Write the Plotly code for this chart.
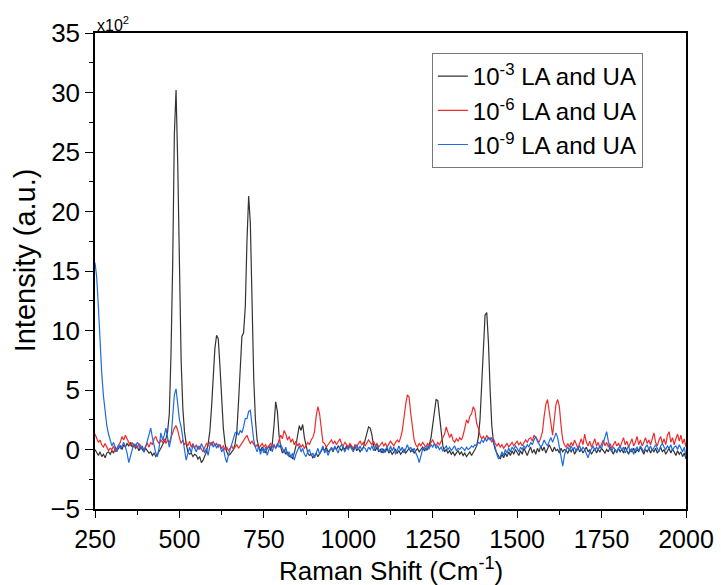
import numpy as np
import plotly.graph_objects as go

# Raman shift sampling grid (cm^-1), 5 cm^-1 step from 250 to 2000
shift_start = 250
shift_step = 5

# Intensity (x10^2 a.u.) — rows of 10 values, each row spans 50 cm^-1
la_ua_1e3 = [
    0.0, -0.3, -0.5, -0.2, -0.6, -0.4, -0.7, -0.3, -0.2, -0.4,
    -0.1, -0.3, 0.2, -0.1, 0.1, 0.3, 0.0, 0.4, 0.2, 0.5,
    0.3, 0.6, 0.2, 0.4, 0.1, 0.3, -0.1, 0.2, 0.0, -0.2,
    0.1, -0.1, -0.3, -0.2, -0.5, -0.3, -0.6, -0.4, -0.2, 0.1,
    0.4, 0.6, 0.9, 1.5, 3.0, 8.0, 15.5, 26.5, 30.2, 24.0,
    14.5, 7.5, 3.5, 1.5, 0.5, -0.2, -0.4, -0.3, -0.6, -0.4,
    -0.5, -0.8, -0.6, -1.1, -0.9, -0.5, -0.2, 0.5, 1.5, 3.5,
    6.0, 8.5, 9.6, 9.3, 7.0, 4.0, 1.8, 0.5, -0.2, -0.5,
    -0.4, -0.2, 0.0, 0.5, 1.5, 4.0, 7.5, 9.5, 9.8, 12.0,
    17.5, 21.3, 19.0, 12.0, 6.0, 2.5, 0.8, 0.2, -0.1, 0.2,
    0.0, -0.3, 0.1, 0.3, -0.1, 0.5, 2.0, 4.0, 3.2, 1.2,
    0.2, -0.3, 0.0, -0.4, -0.2, -0.6, -0.5, -0.8, -0.3, 0.3,
    1.2, 2.0, 1.6, 2.1, 1.0, 0.2, -0.3, -0.5, -0.4, -0.7,
    -0.5, -0.3, -0.6, -0.4, -0.2, 0.1, -0.1, 0.2, -0.2, 0.0,
    0.1, -0.2, 0.2, 0.0, 0.3, 0.1, -0.1, 0.2, 0.0, 0.3,
    0.1, 0.4, 0.2, 0.0, 0.3, -0.1, 0.1, -0.2, 0.0, 0.2,
    0.8, 1.5, 1.9, 1.8, 1.2, 0.3, -0.1, 0.2, -0.2, 0.0,
    -0.3, 0.0, -0.2, 0.1, -0.3, -0.1, -0.4, -0.2, 0.0, -0.3,
    -0.1, -0.4, -0.2, 0.0, -0.3, -0.1, 0.1, -0.2, 0.0, -0.3,
    -0.1, 0.1, -0.2, 0.0, 0.2, -0.1, 0.1, 0.0, 0.4, 1.0,
    2.0, 3.2, 4.2, 4.1, 2.8, 1.2, 0.3, -0.2, 0.0, -0.3,
    -0.1, -0.4, -0.2, -0.5, -0.3, -0.1, -0.4, -0.2, -0.5, -0.3,
    -0.6, -0.4, -0.2, -0.5, -0.3, 0.0, 0.3, 1.0, 2.5, 5.5,
    9.0, 11.3, 11.5, 9.0, 5.0, 2.0, 0.6, 0.0, -0.3, -0.6,
    -0.8, -0.4, -0.7, -0.3, -0.6, -0.2, -0.5, -0.1, -0.4, 0.0,
    -0.3, -0.5, -0.1, -0.4, 0.1, -0.2, -0.5, -0.1, 0.2, -0.3,
    0.0, -0.4, 0.1, -0.2, 0.3, -0.1, 0.2, -0.3, 0.0, 0.4,
    0.1, -0.2, 0.2, -0.1, 0.0, -0.3, 0.1, -0.2, 0.0, -0.1,
    -0.3, 0.0, -0.2, 0.1, -0.4, -0.1, 0.2, -0.2, 0.0, -0.3,
    -0.1, 0.2, -0.2, 0.0, -0.4, -0.1, 0.1, -0.3, 0.0, -0.2,
    0.1, -0.1, -0.3, 0.0, -0.2, 0.2, -0.1, -0.4, 0.0, -0.2,
    0.1, -0.2, 0.0, -0.3, 0.2, -0.1, -0.4, 0.0, -0.2, 0.1,
    -0.3, 0.0, -0.2, 0.2, -0.1, -0.4, 0.0, -0.2, 0.1, -0.3,
    0.0, -0.2, 0.1, -0.3, -0.1, 0.2, -0.2, 0.0, -0.4, -0.1,
    0.1, -0.3, 0.0, -0.2, -0.5, -0.1, -0.4, -0.2, -0.6, -0.3,
    -0.8,
]

la_ua_1e6 = [
    1.3, 1.0, 0.6, 0.8, 0.4, 0.2, 0.5, 0.2, -0.1, 0.1,
    0.0, 0.3, -0.2, 0.1, 0.4, 0.6, 1.1, 0.8, 1.2, 0.9,
    0.5, 0.3, 0.6, 0.2, 0.4, 0.1, 0.5, 0.3, 0.2, 0.0,
    0.3, 0.5, 0.2, 0.6, 0.4, 0.9, 1.1, 0.7, 0.5, 0.8,
    0.6, 0.9, 0.5, 0.8, 0.6, 1.0, 1.3, 1.8, 2.0, 1.6,
    1.0, 0.5, 0.8, 0.4, 0.6, 0.3, 0.7, 0.2, 0.5, 0.1,
    0.4, 0.0, 0.3, 0.1, -0.2, 0.2, 0.5, 0.3, 0.6, 0.4,
    0.7, 0.3, 0.5, 0.2, 0.4, 0.1, 0.3, 0.0, 0.2, -0.1,
    0.1, 0.3, 0.0, 0.2, 0.4, 0.1, 0.3, 0.5, 0.7, 0.9,
    1.2, 0.8, 0.5, 0.7, 0.4, 0.2, 0.4, 0.1, 0.3, 0.5,
    0.2, 0.4, 0.1, 0.3, 0.5, 0.2, 0.4, 0.1, 0.3, 0.8,
    1.2, 0.9, 1.6, 1.3, 0.8, 1.1, 0.6, 0.9, 0.4, 0.7,
    0.3, 0.5, 0.2, 0.4, 0.1, 0.3, 0.6, 0.4, 0.8, 1.0,
    1.5, 2.8, 3.6, 3.0, 1.5, 0.6, 0.5, 0.2, 0.4, 0.6,
    0.8, 0.5, 0.7, 0.4, 0.6, 0.9, 0.5, 0.3, 0.6, 0.4,
    0.2, 0.5, 0.3, 0.1, 0.4, 0.2, 0.5, 0.7, 0.4, 0.6,
    0.3, 0.5, 0.8, 0.6, 0.4, 0.7, 0.3, 0.5, 0.2, 0.4,
    0.6, 0.3, 0.5, 0.2, 0.4, 0.7, 0.5, 0.3, 0.6, 0.8,
    0.6, 1.0, 1.6, 2.8, 3.8, 4.6, 4.4, 3.0, 1.6, 0.8,
    0.4, 0.2, 0.5, 0.3, 0.6, 0.4, 0.2, 0.5, 0.3, 0.6,
    0.8, 0.5, 0.3, 0.6, 0.4, 0.7, 1.0, 1.3, 1.9, 1.4,
    1.0, 1.3, 0.8, 0.6, 0.9, 0.7, 1.0, 0.8, 1.2, 1.8,
    2.5, 2.2, 2.8, 3.0, 3.6, 3.3, 2.2, 1.8, 1.2, 0.9,
    1.1, 0.8, 1.2, 0.9, 1.0, 0.6, 0.9, 0.5, 0.3, 0.5,
    0.2, 0.4, 0.1, 0.3, 0.5, 0.2, 0.4, 0.6, 0.3, 0.5,
    0.7, 0.4, 0.6, 0.3, 0.5, 0.8, 0.6, 0.9, 1.0, 0.7,
    1.2, 1.0, 0.8, 0.6, 1.0, 1.5, 2.8, 3.8, 4.2, 3.2,
    1.8, 1.2, 2.5, 3.8, 4.2, 3.6, 2.0, 0.8, 0.4, 0.2,
    0.5, 0.2, 0.6, 0.3, 0.8, 0.4, 0.1, 0.5, 0.9, 0.4,
    1.3, 0.6, 0.3, 0.7, 0.2, 0.5, 0.9, 0.3, 0.6, 0.1,
    0.4, 0.8, 0.3, 0.6, 0.2, 0.5, 0.1, 0.4, 0.7, 0.3,
    0.5, 0.2, 0.6, 1.0, 0.4, 0.7, 0.2, 0.5, 0.9, 0.3,
    0.6, 1.1, 0.4, 0.8, 0.3, 0.6, 1.0, 0.5, 0.8, 0.4,
    0.9, 1.4, 0.6, 0.3, 0.8, 1.1, 0.5, 0.9, 0.4, 1.2,
    1.5, 0.6, 1.0, 0.4, 0.9, 1.3, 0.7, 1.2, 0.5, 0.9,
    0.2,
]

la_ua_1e9 = [
    15.7, 14.5, 12.0, 9.0, 6.4, 4.5, 3.1, 2.0, 1.3, 0.8,
    0.3, 0.6, 0.1, -0.2, 0.4, 0.1, 0.3, 0.6, 0.2, -0.3,
    -1.1, -0.6, 0.1, 0.5, 0.2, 0.6, 0.4, 0.0, 0.3, -0.2,
    0.2, 0.8, 1.2, 1.8, 1.0, 0.3, -0.3, -0.6, 0.2, 1.4,
    0.8, 1.2, 1.8, 1.0, 0.2, 0.9, 2.5, 4.6, 5.1, 4.0,
    2.5, 1.9, 0.8, 0.0, -0.9, -0.4, 0.2, -0.3, 0.4, 0.1,
    -0.2, 0.3, 0.0, 0.5, 0.2, -0.3, 0.1, -0.5, 0.3, 0.6,
    0.2, 0.5, 0.1, 0.4, 0.3, -0.2, 0.1, -0.6, -1.1, -0.5,
    0.0, 0.3, 0.9, 1.4, 1.5, 1.2, 1.6, 1.4, 1.9, 2.6,
    2.6, 3.2, 3.3, 2.0, 0.8, 0.2, -0.2, 0.3, -0.4, 0.1,
    -0.3, 0.2, -0.5, 0.0, 0.3, -0.2, 0.4, 0.1, 0.5, 0.2,
    0.4, 0.1, -0.3, 0.2, -0.5, -0.2, -0.7, -0.3, -0.9, -0.4,
    -0.1, 0.3, -0.2, 0.1, -0.4, -0.6, -0.2, 0.0, -0.5, -0.3,
    -0.7, -0.2, 0.1, -0.4, -0.1, 0.3, -0.3, 0.0, -0.5, -0.2,
    0.2, -0.1, 0.3, 0.0, -0.3, 0.2, 0.4, 0.1, -0.2, 0.2,
    0.0, 0.3, 0.1, -0.2, 0.2, 0.4, 0.0, 0.3, -0.1, 0.2,
    0.1, -0.2, 0.2, 0.0, 0.3, -0.1, 0.2, 0.4, 0.0, -0.2,
    0.1, -0.3, 0.0, 0.2, -0.2, 0.3, -0.1, 0.2, -0.4, 0.0,
    0.3, -0.1, 0.2, -0.3, 0.1, 0.4, 0.0, 0.2, -0.2, 0.1,
    -0.3, -0.6, -1.1, -0.5, 0.0, 0.2, -0.1, 0.3, 0.1, 0.4,
    0.2, 0.5, 0.1, 0.3, 0.0, 0.2, -0.1, 0.1, 0.3, 0.0,
    0.2, -0.1, 0.1, 0.3, -0.1, 0.1, 0.0, 0.2, 0.1, -0.1,
    0.2, 0.0, 0.1, 0.3, 0.2, 0.4, 0.3, 0.6, 0.5, 0.8,
    0.6, 0.9, 0.7, 1.0, 0.8, 1.0, 0.6, 0.2, -0.4, -0.8,
    -0.6, -0.2, -0.5, 0.0, -0.3, 0.1, -0.2, 0.2, 0.0, 0.3,
    0.1, -0.2, 0.2, 0.0, 0.3, 0.1, 0.4, 0.2, 0.6, 0.4,
    0.8, 1.1, 0.7, 0.5, 0.2, 0.4, 0.8, 0.5, 0.3, 0.7,
    1.0, 0.6, 1.1, 1.4, 1.0, 0.2, -0.6, -1.4, -0.5, 0.0,
    0.2, -0.1, 0.3, 0.0, 0.2, -0.2, 0.1, 0.3, -0.1, 0.2,
    0.0, -0.3, -0.7, -0.2, 0.1, 0.3, -0.1, 0.2, 0.0, 0.3,
    0.1, 0.6, 1.2, 1.5, 0.7, 0.1, -0.2, 0.2, 0.0, -0.3,
    0.1, 0.3, -0.1, 0.2, -0.3, 0.0, 0.3, -0.2, 0.1, -0.4,
    0.0, 0.2, -0.1, 0.3, 0.1, -0.2, 0.2, 0.4, 0.0, 0.3,
    -0.1, 0.2, 0.4, 0.1, -0.2, 0.3, 0.5, 0.2, 0.0, 0.3,
    0.1, 0.4, -0.1, 0.2, 0.3, 0.0, 0.4, 0.1, -0.2, 0.2,
    -0.6,
]

series_names = ["10<sup>-3</sup> LA and UA", "10<sup>-6</sup> LA and UA", "10<sup>-9</sup> LA and UA"]
series_colors = ["#333333", "#ee2b2b", "#1e6ae0"]
x_ticks = [250, 500, 750, 1000, 1250, 1500, 1750, 2000]
y_ticks = [-5, 0, 5, 10, 15, 20, 25, 30, 35]
x_title = "Raman Shift (Cm<sup>-1</sup>)"
y_title = "Intensity (a.u.)"
y_scale_note = "x10<sup>2</sup>"

fig = go.Figure()
for ys, name, color in zip([la_ua_1e3, la_ua_1e6, la_ua_1e9], series_names, series_colors):
    xs = [shift_start + shift_step * i for i in range(len(ys))]
    fig.add_trace(go.Scatter(x=xs, y=ys, mode="lines", name=name,
                             line=dict(color=color, width=1.2)))

font_family = "Liberation Sans, Arial, sans-serif"
fig.update_layout(
    width=721, height=585,
    margin=dict(l=95, r=35, t=33, b=76),
    paper_bgcolor="white", plot_bgcolor="white",
    font=dict(family=font_family, color="black"),
    showlegend=True,
    legend=dict(x=0.57, y=0.958, xanchor="left", yanchor="top",
                bordercolor="#777777", borderwidth=1, bgcolor="white",
                font=dict(size=24, color="black"), tracegroupgap=0),
    xaxis=dict(range=[250, 2000], tickvals=x_ticks, ticks="outside", ticklen=7,
               tickwidth=1.3, tickcolor="black", showline=True, linecolor="black",
               linewidth=1.5, mirror=True, showgrid=False, zeroline=False,
               tickfont=dict(size=25), automargin=False,
               minor=dict(tickvals=[375, 625, 875, 1125, 1375, 1625, 1875],
                          ticks="outside", ticklen=4, tickwidth=1.2, tickcolor="black")),
    yaxis=dict(range=[-5, 35], tickvals=y_ticks, ticks="outside", ticklen=8,
               tickwidth=1.3, tickcolor="black", showline=True, linecolor="black",
               linewidth=1.5, mirror=True, showgrid=False, zeroline=False,
               tickfont=dict(size=26), automargin=False,
               minor=dict(tickvals=[-2.5, 2.5, 7.5, 12.5, 17.5, 22.5, 27.5, 32.5],
                          ticks="outside", ticklen=4, tickwidth=1.2, tickcolor="black")),
    annotations=[
        dict(text=y_scale_note, xref="paper", yref="paper", x=0, y=1,
             xanchor="left", yanchor="bottom", showarrow=False,
             font=dict(size=16, color="black"), yshift=-3),
        dict(text=x_title, xref="paper", yref="paper", x=0.5, y=-0.16,
             xanchor="center", yanchor="bottom", showarrow=False,
             font=dict(size=26, color="black"), yshift=-3),
        dict(text=y_title, xref="paper", yref="paper", x=-0.118, y=0.523,
             xanchor="center", yanchor="middle", textangle=-90, showarrow=False,
             font=dict(size=29, color="black")),
    ],
)

fig.write_html("out.html")
